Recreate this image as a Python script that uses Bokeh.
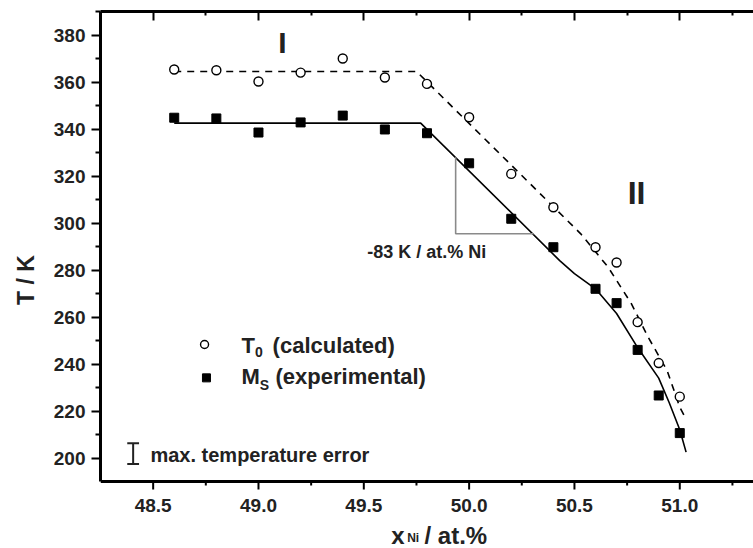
from bokeh.plotting import figure
from bokeh.models import Range1d, LinearAxis, FixedTicker, Label
from bokeh.core.properties import value
from bokeh.embed import file_html
from bokeh.resources import INLINE

# ---- data ----
ni_x = [48.6, 48.8, 49.0, 49.2, 49.4, 49.6, 49.8, 50.0, 50.2, 50.4, 50.6, 50.7, 50.8, 50.9, 51.0]
t0_calc = [365.3, 365.0, 360.2, 364.0, 370.0, 361.9, 359.2, 345.0, 320.9, 306.7, 289.7, 283.2, 257.8, 240.4, 226.1]
ms_exp = [344.8, 344.5, 338.5, 342.8, 345.7, 339.8, 338.2, 325.4, 301.8, 289.7, 272.0, 265.9, 246.0, 226.6, 210.6]

t0_fit_x = [48.6, 49.75, 50.53, 50.66, 50.77, 50.85, 50.94, 51.0, 51.03]
t0_fit_y = [364.5, 364.5, 295.4, 281.2, 265.7, 251.4, 237.2, 221.6, 216.5]

ms_fit_x = [48.6, 49.77, 50.43, 50.5, 50.6, 50.7, 50.8, 50.9, 50.95, 51.0, 51.03]
ms_fit_y = [342.5, 342.5, 284.0, 278.5, 272.0, 261.5, 247.0, 234.0, 223.5, 212.0, 202.5]

slope_tri_x = [49.936, 49.936, 50.307]
slope_tri_y = [328.0, 295.4, 295.4]

x_major = [48.5, 49.0, 49.5, 50.0, 50.5, 51.0]
x_minor = [48.75, 49.25, 49.75, 50.25, 50.75, 51.25]
x_tick_labels = ["48.5", "49.0", "49.5", "50.0", "50.5", "51.0"]
y_major = [200, 220, 240, 260, 280, 300, 320, 340, 360, 380]
y_minor = [210, 230, 250, 270, 290, 310, 330, 350, 370, 390]

X_START, X_END = 48.25, 51.35
Y_AXIS, Y_TOP = 190, 390          # T-axis extent (bottom axis sits at 190 K)
Y_VIEW_BOTTOM = 161.49            # frame continues down to the page edge
PX_PER_K = 537 / (Y_TOP - Y_VIEW_BOTTOM)

FONT = "Liberation Sans"
INK = "#222222"

p = figure(width=753, height=548, output_backend="svg", toolbar_location=None,
           x_range=Range1d(X_START, X_END), y_range=Range1d(Y_VIEW_BOTTOM, Y_TOP),
           x_axis_location=None,
           min_border_left=100, min_border_right=0, min_border_top=11, min_border_bottom=0)
p.outline_line_color = None
p.grid.visible = False
p.background_fill_color = "white"

def style_axis(ax):
    ax.axis_line_width = 3
    ax.axis_line_color = "black"
    ax.major_tick_line_width = 2
    ax.minor_tick_line_width = 2
    ax.major_tick_line_color = "black"
    ax.minor_tick_line_color = "black"
    ax.major_label_text_font = FONT
    ax.major_label_text_font_style = "bold"
    ax.major_label_text_font_size = "19px"
    ax.major_label_text_color = INK

ya = p.yaxis[0]
ya.ticker = FixedTicker(ticks=y_major, minor_ticks=y_minor)
ya.bounds = (Y_AXIS, Y_TOP)
style_axis(ya)
ya.major_tick_in = 0
ya.major_tick_out = 9
ya.minor_tick_in = 0
ya.minor_tick_out = 5
ya.major_label_standoff = 6
ya.axis_label = "T / K"
ya.axis_label_text_font = FONT
ya.axis_label_text_font_style = "bold"
ya.axis_label_text_font_size = "23px"
ya.axis_label_text_color = INK
ya.axis_label_standoff = 12

top = LinearAxis(ticker=FixedTicker(ticks=x_major, minor_ticks=x_minor))
style_axis(top)
top.major_label_overrides = {v: "" for v in x_major}
top.major_label_text_font_size = "1px"
top.major_label_standoff = 0
top.major_tick_in = 9
top.major_tick_out = 0
top.minor_tick_in = 4
top.minor_tick_out = 0
p.add_layout(top, "above")

# bottom (x) axis drawn at T = 190 K
p.segment(x0=[X_START], y0=[Y_AXIS], x1=[X_END], y1=[Y_AXIS], line_color="black", line_width=3)
p.segment(x0=x_major, y0=[Y_AXIS] * len(x_major), x1=x_major,
          y1=[Y_AXIS - 8 / PX_PER_K] * len(x_major), line_color="black", line_width=2)
p.segment(x0=x_minor, y0=[Y_AXIS] * len(x_minor), x1=x_minor,
          y1=[Y_AXIS - 4 / PX_PER_K] * len(x_minor), line_color="black", line_width=2)
p.text(x=x_major, y=[Y_AXIS - 24 / PX_PER_K] * len(x_major), text=x_tick_labels,
       text_font=value(FONT), text_font_style="bold", text_font_size="19px",
       text_color=INK, text_align="center", text_baseline="middle")

# fit lines
p.line(t0_fit_x, t0_fit_y, line_color="black", line_width=1.6, line_dash="7 6")
p.line(ms_fit_x, ms_fit_y, line_color="black", line_width=1.6)

# slope triangle
p.line(slope_tri_x, slope_tri_y, line_color="#8a8a8a", line_width=1.6)

# markers
p.scatter(ni_x, t0_calc, marker="circle", size=9, fill_color="white", line_color="black", line_width=1.4)
p.scatter(ni_x, ms_exp, marker="square", size=9, fill_color="black", line_color="black")

# legend markers
p.scatter([48.744], [248.3], marker="circle", size=8, fill_color="white", line_color="black", line_width=1.4)
p.scatter([48.753], [234.1], marker="square", size=8, fill_color="black", line_color="black")

# error bar symbol
p.segment(x0=[48.405, 48.377, 48.377], y0=[197.5, 206.3, 197.5],
          x1=[48.405, 48.433, 48.433], y1=[206.3, 206.3, 197.5],
          line_color=INK, line_width=2)

def lab(x, y, text, size, align="left", baseline="middle"):
    p.add_layout(Label(x=x, y=y, text=text, text_font=FONT, text_font_style="bold",
                       text_font_size=size, text_color=INK,
                       text_align=align, text_baseline=baseline))

lab(48.9195, 247.9, "T", "22px")
lab(48.984, 245.3, "0", "14px")
lab(49.067, 247.9, "(calculated)", "22px")
lab(48.9195, 234.7, "M", "22px")
lab(49.006, 231.0, "S", "14px")
lab(49.081, 234.7, "(experimental)", "22px")

lab(48.487, 201.1, "max. temperature error", "20px")
lab(49.516, 287.6, "-83 K / at.% Ni", "18px")
lab(49.114, 376.6, "I", "30px", align="center")
lab(50.795, 312.6, "II", "32px", align="center")

# x axis label (kept just inside the page's lower edge)
lab(49.630, 167.0, "x", "24px", baseline="alphabetic")
lab(49.706, 165.8, "Ni", "12px", baseline="alphabetic")
lab(49.788, 167.0, "/ at.%", "24px", baseline="alphabetic")

open("out.html", "w").write(file_html(p, INLINE))
